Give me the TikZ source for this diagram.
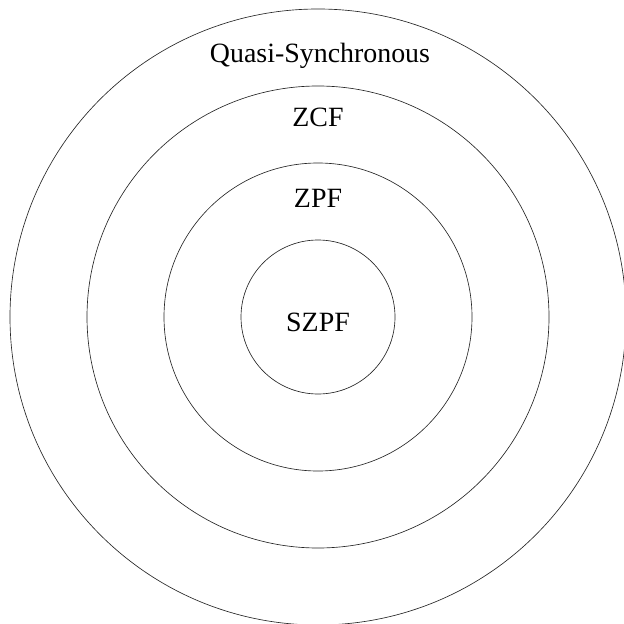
\documentclass[tikz,border=0pt]{standalone}
\usepackage{fontspec}
\setmainfont{Liberation Serif}
\begin{document}
\begin{tikzpicture}[x=1bp,y=-1bp,
  ring/.style={draw=black!85,line width=0.65bp},
  tag/.style={anchor=base,inner sep=0pt,font=\fontsize{28}{33}\selectfont}]
\useasboundingbox (0,0) rectangle (624,624);
\clip (0,0) rectangle (624,624);
\coordinate (c) at (318,317);
% nested rings, outermost first
\draw[ring] (c) circle[radius=308bp];
\draw[ring] (c) circle[radius=231bp];
\draw[ring] (c) circle[radius=154bp];
\draw[ring] (c) circle[radius=77bp];
% class labels
\node[tag] (qs)   at (320,63)  {Quasi-Synchronous};
\node[tag] (zcf)  at (318,127) {ZCF};
\node[tag] (zpf)  at (318,207) {ZPF};
\node[tag] (szpf) at (318,331) {SZPF};
\end{tikzpicture}
\end{document}
